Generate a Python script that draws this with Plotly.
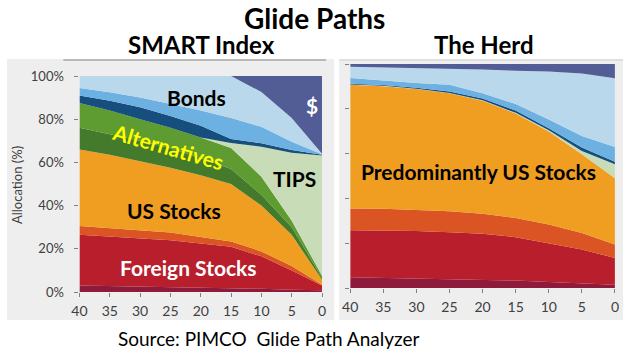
import plotly.graph_objects as go

W, H = 628, 359
# calibrated mapping from reference pixels to paper fractions
PL, PT, PW, PH = 8, 8, 612, 343

years = [40, 35, 30, 25, 20, 15, 10, 5, 0]
x_ticks = [40, 35, 30, 25, 20, 15, 10, 5, 0]
y_ticks = [0, 20, 40, 60, 80, 100]
y_tick_labels = ["0%", "20%", "40%", "60%", "80%", "100%"]

# SMART Index: cumulative upper boundary of each layer (%), bottom to top
smart_emerging = [3.0, 2.8, 2.6, 2.4, 2.2, 2.0, 1.5, 1.0, 0.8]
smart_foreign = [26.5, 25.7, 25.0, 24.0, 22.5, 21.0, 16.5, 10.0, 3.0]
smart_smallcap = [30.5, 29.5, 28.5, 27.5, 25.5, 23.4, 18.8, 12.0, 3.4]
smart_us = [66.0, 63.5, 60.5, 57.5, 54.0, 50.0, 40.0, 26.5, 5.7]
smart_alt_dark = [76.0, 73.0, 70.0, 66.5, 62.0, 57.0, 45.0, 30.0, 6.5]
smart_alt = [87.5, 84.0, 80.0, 76.0, 71.5, 66.7, 53.4, 33.0, 7.5]
smart_tips = [87.5, 84.0, 80.0, 76.0, 71.5, 69.0, 67.3, 64.5, 63.2]
smart_bond_dark = [91.0, 88.5, 85.5, 81.5, 77.0, 70.8, 68.9, 65.7, 63.5]
smart_bond_mid = [94.5, 92.5, 90.0, 87.0, 84.0, 80.5, 76.5, 69.6, 63.8]
smart_bonds = [100, 100, 100, 100, 100, 100, 92.6, 80.5, 64.0]
smart_cash = [100, 100, 100, 100, 100, 100, 100, 100, 100]

# The Herd: cumulative upper boundary of each layer (%)
herd_emerging = [4.8, 4.5, 4.4, 4.2, 3.7, 3.3, 2.7, 2.1, 1.5]
herd_foreign = [25.8, 25.7, 25.4, 24.9, 24.2, 22.7, 20.1, 17.2, 13.4]
herd_smallcap = [35.5, 35.4, 34.8, 34.3, 33.1, 31.3, 28.4, 24.6, 19.4]
herd_us = [90.7, 90.1, 88.8, 86.9, 83.6, 77.9, 69.9, 59.7, 49.0]
herd_tips = [90.9, 90.3, 89.0, 87.1, 83.8, 78.2, 70.4, 61.2, 55.2]
herd_bond_dark = [91.2, 90.6, 89.4, 87.7, 84.6, 79.2, 71.3, 62.7, 56.4]
herd_bond_mid = [93.7, 92.5, 91.5, 90.7, 86.9, 82.1, 75.2, 67.9, 63.0]
herd_bonds = [98.8, 98.5, 98.2, 98.0, 97.6, 97.0, 96.6, 95.8, 93.6]
herd_cash = [100, 100, 100, 100, 100, 100, 100, 100, 100]

C = {
    "emerging": "#8E1B3C",
    "foreign": "#B81E2C",
    "smallcap": "#DA5523",
    "us": "#F09E22",
    "alt_dark": "#447A2C",
    "alt": "#5E9B31",
    "tips": "#C8DDB7",
    "bond_dark": "#164F7E",
    "bond_mid": "#6DB1E2",
    "bonds": "#BAD8EB",
    "cash": "#535D95",
}

smart_layers = [
    ("emerging", smart_emerging), ("foreign", smart_foreign),
    ("smallcap", smart_smallcap), ("us", smart_us),
    ("alt_dark", smart_alt_dark), ("alt", smart_alt),
    ("tips", smart_tips), ("bond_dark", smart_bond_dark),
    ("bond_mid", smart_bond_mid), ("bonds", smart_bonds), ("cash", smart_cash),
]
herd_layers = [
    ("emerging", herd_emerging), ("foreign", herd_foreign),
    ("smallcap", herd_smallcap), ("us", herd_us), ("tips", herd_tips),
    ("bond_dark", herd_bond_dark), ("bond_mid", herd_bond_mid),
    ("bonds", herd_bonds), ("cash", herd_cash),
]

fig = go.Figure()
for layers, xa, ya in [(smart_layers, "x", "y"), (herd_layers, "x2", "y2")]:
    for i, (name, vals) in enumerate(layers):
        fig.add_trace(go.Scatter(
            x=years, y=vals, xaxis=xa, yaxis=ya, mode="lines",
            line=dict(width=0, color=C[name]),
            fill="tozeroy" if i == 0 else "tonexty",
            fillcolor=C[name], hoverinfo="skip", showlegend=False,
        ))


def px(x):
    return (x - PL) / PW


def py(y):
    return 1 - (y - PT) / PH


FONT = "Lato"
TICKF = dict(family=FONT, size=13, color="#404040")
XTICKF = dict(family=FONT, size=14, color="#404040")

fig.update_layout(
    width=W, height=H, autosize=False,
    margin=dict(l=0, r=0, t=0, b=0),
    paper_bgcolor="white", plot_bgcolor="rgba(0,0,0,0)",
    showlegend=False,
    xaxis=dict(domain=[px(79), px(320)], range=[40, 0], tickvals=x_ticks,
               showgrid=False, zeroline=False, ticks="outside", ticklen=4,
               tickcolor="#808080", tickfont=XTICKF, ticklabelstandoff=2),
    yaxis=dict(domain=[py(292), py(76)], range=[0, 100], tickvals=y_ticks,
               ticktext=y_tick_labels, showgrid=False, zeroline=False,
               ticks="outside", ticklen=4, tickcolor="#808080", tickfont=TICKF,
               ticklabelstandoff=8),
    xaxis2=dict(domain=[px(348), px(611)], range=[40, 0], tickvals=x_ticks,
                showgrid=False, zeroline=False, ticks="outside", ticklen=4,
                tickcolor="#808080", tickfont=XTICKF, anchor="y2",
                ticklabelstandoff=2),
    yaxis2=dict(domain=[py(288), py(64)], range=[0, 100], tickvals=y_ticks,
                showticklabels=False, showgrid=False, zeroline=False,
                ticks="outside", ticklen=4, tickcolor="#808080", anchor="x2"),
)

shapes = [
    dict(type="rect", xref="paper", yref="paper", x0=px(7), x1=px(332),
         y0=py(320), y1=py(59), fillcolor="#EEEEEE", line=dict(width=0), layer="below"),
    dict(type="rect", xref="paper", yref="paper", x0=px(337), x1=px(619),
         y0=py(320), y1=py(59), fillcolor="#EEEEEE", line=dict(width=0), layer="below"),
    dict(type="line", xref="paper", yref="paper", x0=px(63), x1=px(324),
         y0=py(60), y1=py(60), line=dict(color="#A6A6A6", width=1.5)),
    dict(type="line", xref="paper", yref="paper", x0=px(337), x1=px(619),
         y0=py(60), y1=py(60), line=dict(color="#D0D0D0", width=1)),
]
fig.update_layout(shapes=shapes)


def ann(text, x, y, size, color="black", bold=True, angle=0):
    t = f"<b>{text}</b>" if bold else text
    fig.add_annotation(text=t, x=px(x), y=py(y), xref="paper", yref="paper",
                       showarrow=False, xanchor="center", yanchor="middle",
                       textangle=angle, font=dict(family=FONT, size=size, color=color))


ann("Glide Paths", 313, 18, 28)
ann("SMART Index", 200, 45, 24)
ann("The Herd", 481, 45, 24)
ann("Source: PIMCO  Glide Path Analyzer", 267, 338, 19, bold=False)
ann("Allocation (%)", 17, 185, 13, color="#404040", bold=False, angle=-90)

ann("Bonds", 195, 97, 21)
ann("$", 310, 105, 21, color="white")
ann("Alternatives", 167, 146, 21, color="#FFFF00", angle=16)
ann("TIPS", 293, 178, 21)
ann("US Stocks", 173, 210, 21)
ann("Foreign Stocks", 187, 267, 21, color="white")
ann("Predominantly US Stocks", 475, 172, 21)

fig.write_html("out.html", config={"displayModeBar": False},
               post_script="document.body.style.margin='0';document.body.style.padding='0';")
